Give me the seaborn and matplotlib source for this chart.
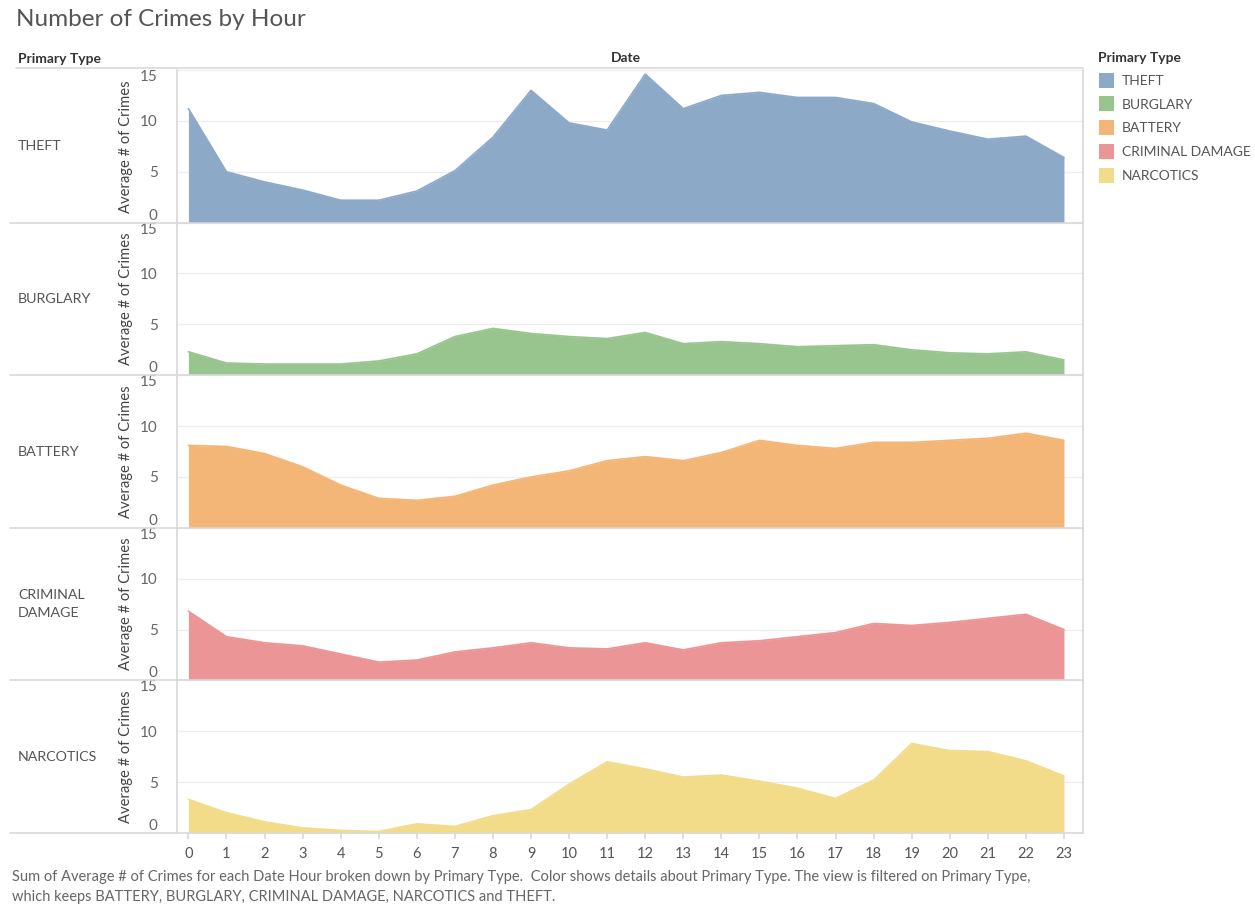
import numpy as np
import pandas as pd
import matplotlib
matplotlib.use("Agg")
import matplotlib.pyplot as plt
import matplotlib.transforms as mtransforms
from matplotlib.patches import Patch
from matplotlib.lines import Line2D
import seaborn as sns

hours = list(range(24))
categories = ["THEFT", "BURGLARY", "BATTERY", "CRIMINAL DAMAGE", "NARCOTICS"]
row_labels = ["THEFT", "BURGLARY", "BATTERY", "CRIMINAL\nDAMAGE", "NARCOTICS"]

theft = [11.2, 5.0, 4.0, 3.2, 2.2, 2.2, 3.1, 5.1, 8.4, 13.0, 9.8, 9.1,
         14.6, 11.2, 12.5, 12.8, 12.3, 12.3, 11.7, 9.9, 9.0, 8.2, 8.5, 6.4]
burglary = [2.3, 1.2, 1.1, 1.1, 1.1, 1.4, 2.1, 3.8, 4.6, 4.1, 3.8, 3.6,
            4.2, 3.1, 3.3, 3.1, 2.8, 2.9, 3.0, 2.5, 2.2, 2.1, 2.3, 1.5]
battery = [8.1, 8.0, 7.3, 6.0, 4.2, 2.9, 2.7, 3.1, 4.2, 5.0, 5.6, 6.6,
           7.0, 6.6, 7.4, 8.6, 8.1, 7.8, 8.4, 8.4, 8.6, 8.8, 9.3, 8.6]
criminal_damage = [6.8, 4.3, 3.7, 3.4, 2.6, 1.8, 2.0, 2.8, 3.2, 3.7, 3.2, 3.1,
                   3.7, 3.0, 3.7, 3.9, 4.3, 4.7, 5.6, 5.4, 5.7, 6.1, 6.5, 5.0]
narcotics = [3.3, 2.0, 1.1, 0.5, 0.25, 0.15, 0.9, 0.65, 1.7, 2.3, 4.8, 7.0,
             6.3, 5.5, 5.7, 5.1, 4.4, 3.4, 5.2, 8.8, 8.1, 8.0, 7.1, 5.6]
series = [theft, burglary, battery, criminal_damage, narcotics]
colors = ["#8DA9C8", "#98C58E", "#F4B677", "#EC9596", "#F2DB89"]
y_ticks = [0, 5, 10, 15]

df = pd.concat([pd.DataFrame({"hour": hours, "value": v, "type": c})
                for c, v in zip(categories, series)], ignore_index=True)

sns.set_theme(style="white")
plt.rcParams["font.family"] = ["Lato", "DejaVu Sans"]

W, H = 1255, 907
fig = plt.figure(figsize=(W / 100, H / 100), dpi=100)

def fx(px):
    return px / W

def fy(py):
    return 1 - py / H

left_px, right_px = 177, 1083
top_px, bottom_px = 70, 833
n = len(categories)
ph = (bottom_px - top_px) / n
grey_line = "#D9D9D9"

for i, (cat, lab, col) in enumerate(zip(categories, row_labels, colors)):
    t = top_px + i * ph
    ax = fig.add_axes([fx(left_px), fy(t + ph), fx(right_px - left_px), ph / H])
    sub = df[df["type"] == cat]
    ax.fill_between(sub["hour"], 0, sub["value"], color=col, lw=0)
    sns.lineplot(data=sub, x="hour", y="value", ax=ax, color=col, lw=1.2,
                 legend=False)
    ax.set_xlim(-0.3, 23.5)
    ax.set_ylim(0, 15)
    ax.set_yticks(y_ticks)
    ax.set_yticklabels([str(v) for v in y_ticks], fontsize=11, color="#666666")
    tl = ax.get_yticklabels()
    tl[0].set_va("bottom")
    tl[0].set_transform(tl[0].get_transform() +
                        mtransforms.ScaledTranslation(0, 4 / 100, fig.dpi_scale_trans))
    tl[-1].set_va("top")
    tl[-1].set_transform(tl[-1].get_transform() +
                         mtransforms.ScaledTranslation(0, -2 / 100, fig.dpi_scale_trans))
    ax.tick_params(axis="y", length=0, pad=14)
    ax.grid(axis="y", color="#EDEDED", lw=0.9)
    ax.set_axisbelow(True)
    ax.set_ylabel("Average # of Crimes", fontsize=10.6, color="#444444",
                  labelpad=5)
    ax.set_xlabel("")
    for s in ["top", "bottom"]:
        ax.spines[s].set_visible(False)
    ax.spines["left"].set_color(grey_line)
    ax.spines["right"].set_color(grey_line)
    ax.set_xticks(hours)
    if i == n - 1:
        ax.set_xticklabels([str(h) for h in hours], fontsize=10.5, color="#555555")
        ax.tick_params(axis="x", length=4, color=grey_line, pad=6, bottom=True)
    else:
        ax.set_xticklabels([])
        ax.tick_params(axis="x", length=0)
    fig.text(fx(18), fy(t + ph / 2), lab, fontsize=10.3, color="#555555",
             ha="left", va="center", linespacing=1.6)
    fig.add_artist(Line2D([fx(10), fx(right_px)], [fy(t + ph), fy(t + ph)],
                          color=grey_line, lw=1.2))

# header
fig.add_artist(Line2D([fx(16), fx(right_px)], [fy(68), fy(68)],
                      color=grey_line, lw=1.2))
fig.text(fx(18), fy(59), "Primary Type", fontsize=10, fontweight="bold",
         color="#333333", ha="left", va="center")
fig.text(fx(626), fy(58), "Date", fontsize=10, fontweight="bold",
         color="#333333", ha="center", va="center")

# title
fig.text(fx(16), fy(19), "Number of Crimes by Hour", fontsize=17.5,
         color="#555555", ha="left", va="center")

# legend
fig.text(fx(1098), fy(58), "Primary Type", fontsize=10, fontweight="bold",
         color="#333333", ha="left", va="center")
handles = [Patch(facecolor=c, edgecolor="none", label=l)
           for c, l in zip(colors, categories)]
leg = fig.legend(handles=handles, loc="upper left",
                 bbox_to_anchor=(fx(1093), fy(67)), frameon=False,
                 fontsize=10, handlelength=1.1, handleheight=1.3,
                 handletextpad=0.6, labelspacing=0.62, borderaxespad=0)
for t in leg.get_texts():
    t.set_color("#555555")

# caption
fig.text(fx(12), fy(877), "Sum of Average # of Crimes for each Date Hour broken down by Primary Type.  "
         "Color shows details about Primary Type. The view is filtered on Primary Type,",
         fontsize=10.5, color="#666666", ha="left", va="center")
fig.text(fx(12), fy(897), "which keeps BATTERY, BURGLARY, CRIMINAL DAMAGE, NARCOTICS and THEFT.",
         fontsize=10.5, color="#666666", ha="left", va="center")

fig.savefig("out.png", dpi=100, facecolor="white")
